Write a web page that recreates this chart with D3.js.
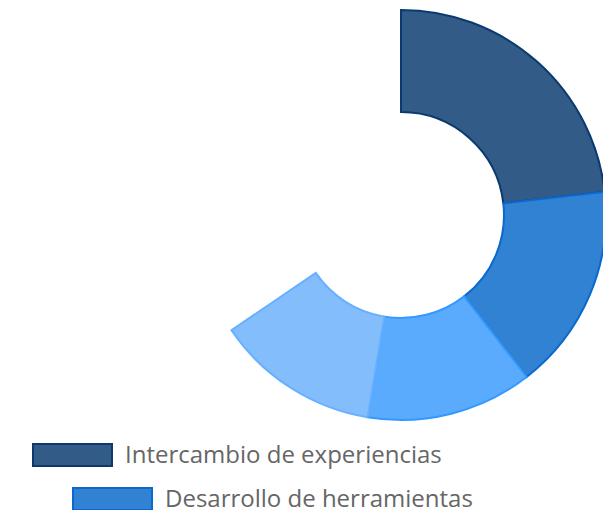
<!DOCTYPE html>
<html>
<head>
<meta charset="utf-8">
<script src="https://cdn.jsdelivr.net/npm/d3@7"></script>
<style>
    body { margin: 0; background: #fff; }
    svg { display: block; }
    .legend text { font-family: "Open Sans", sans-serif; font-size: 24px; fill: #666; }
</style>
</head>
<body>
<svg id="chart" width="603" height="510"></svg>
<script>
// categories and values (percent of the full circle)
var categories = ["Intercambio de experiencias", "Desarrollo de herramientas", "Serie 3", "Serie 4"];
var values = [23.2, 16.3, 13.1, 12.9];
var total = 100;

// colours per slice
var fills = ["#335b87", "#3182d3", "#5aabfd", "#84bdfc"];
var borders = ["#0b3a6e", "#0a68cf", "#3399ff", "#66b0ff"];

var svg = d3.select("#chart");

// centre and radii of the donut
var CX = 401, CY = 215, OUTER = 205, INNER = 103;

// angle scale
var angle = d3.scaleLinear().domain([0, total]).range([0, 2 * Math.PI]);

var arcs = [];
var acc = 0;
values.forEach(function(v, i) {
    arcs.push({ startAngle: angle(acc), endAngle: angle(acc + v), i: i });
    acc += v;
});

var arcGen = d3.arc().innerRadius(INNER).outerRadius(OUTER);

var g = svg.append("g")
    .attr("transform", "translate(" + CX + "," + CY + ")");

g.selectAll("path")
    .data(arcs)
    .enter()
    .append("path")
    .attr("d", arcGen)
    .attr("fill", d => fills[d.i])
    .attr("stroke", d => borders[d.i])
    .attr("stroke-width", 2)
    .attr("stroke-linejoin", "miter");

// legend (only the first rows fit in the window)
var legendRows = [
    { x: 32, y: 443 },
    { x: 72, y: 487 }
];

var legend = svg.append("g").attr("class", "legend");

legendRows.forEach(function(r, i) {
    legend.append("rect")
        .attr("x", r.x + 1)
        .attr("y", r.y + 1)
        .attr("width", 79)
        .attr("height", 22)
        .attr("fill", fills[i])
        .attr("stroke", borders[i])
        .attr("stroke-width", 2);
    legend.append("text")
        .attr("x", r.x + 93)
        .attr("y", r.y + 12)
        .attr("dy", "0.35em")
        .text(categories[i]);
});
</script>
</body>
</html>
